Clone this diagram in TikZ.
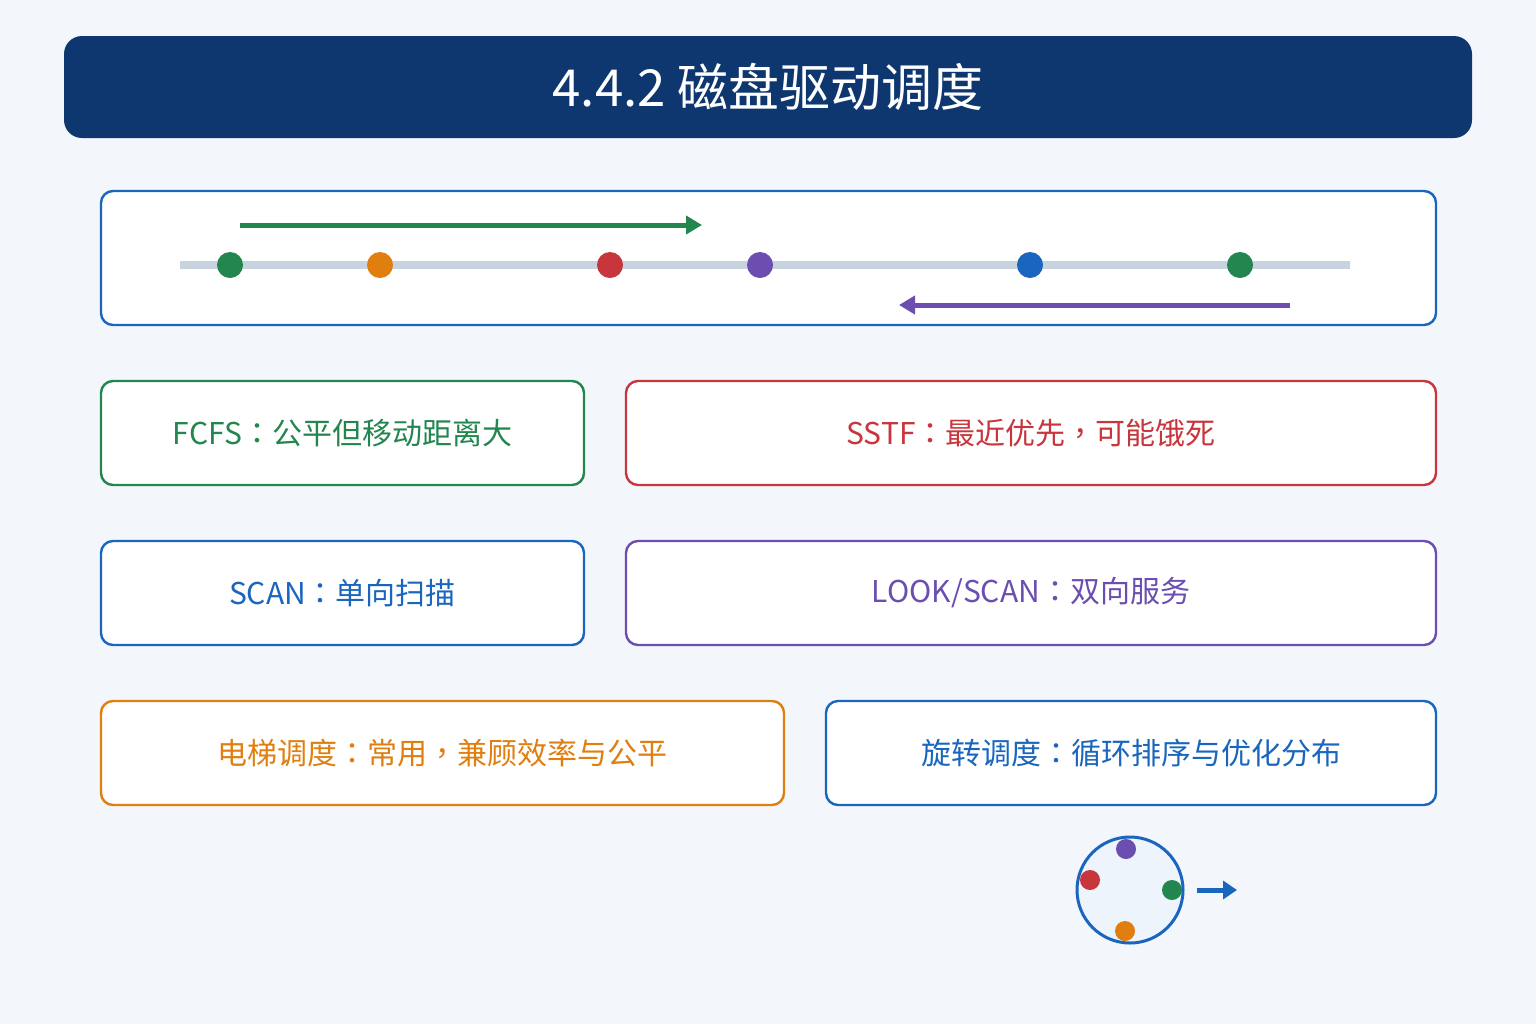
\documentclass[tikz,border=0pt]{standalone}
\usepackage{fontspec}
\setmainfont{Noto Sans CJK SC}
\newfontfamily\tcpunct{Noto Sans CJK TC}
\usepackage{tikz}
\usetikzlibrary{arrows.meta}

\definecolor{pagebg}{HTML}{F3F7FB}
\definecolor{navy}{HTML}{0E376F}
\definecolor{dgreen}{HTML}{22864E}
\definecolor{dorange}{HTML}{E07F10}
\definecolor{dred}{HTML}{C8363D}
\definecolor{dpurple}{HTML}{6B4EB0}
\definecolor{dblue}{HTML}{1A66BE}
\definecolor{track}{HTML}{C8D3E0}
\definecolor{diskfill}{HTML}{EEF4FC}

\newcommand{\cln}{{\tcpunct ：}}
\newcommand{\cma}{{\tcpunct ，}}

\begin{document}
\begin{tikzpicture}[
x=0.5pt, y=-0.5pt,
card/.style={draw, line width=1.2pt, rounded corners=6pt, fill=white, font=\fontsize{15}{18}\selectfont, inner sep=0pt},
req/.style={circle, fill, inner sep=0pt, minimum size=13pt},
smallreq/.style={circle, fill, inner sep=0pt, minimum size=10pt},
arrow/.style={-{Triangle[length=8pt,width=9pt]}, line width=2.5pt},
smallarrow/.style={-{Triangle[length=7pt,width=9pt]}, line width=2.5pt} ]

\useasboundingbox[fill=pagebg] (0,0) rectangle (1536,1024);

% title
\node[fill=navy, rounded corners=9pt, minimum width=704pt, minimum height=51pt, text=white, font=\fontsize{25.5}{30}\selectfont](title) at (768,87) {4.4.2 磁盘驱动调度};

% track with requests
\node[card, draw=dblue, minimum width=667.5pt, minimum height=67pt](track) at (768.5,258) {};

\coordinate (t0) at (180,265);
\coordinate (t1) at (1350,265);
\draw[track, line width=4pt] (t0) -- (t1);

\node[req, dgreen](r1) at (230,265) {};
\node[req, dorange](r2) at (380,265) {};
\node[req, dred](r3) at (610,265) {};
\node[req, dpurple](r4) at (760,265) {};
\node[req, dblue](r5) at (1030,265) {};
\node[req, dgreen](r6) at (1240,265) {};

\coordinate (up0) at (240,225);
\coordinate (up1) at (702,225);
\draw[arrow, dgreen] (up0) -- (up1);

\coordinate (dn0) at (1290,305);
\coordinate (dn1) at (899,305);
\draw[arrow, dpurple] (dn0) -- (dn1);

% algorithms
\node[card, draw=dgreen, text=dgreen, minimum width=241.5pt, minimum height=52pt](fcfs) at (342.5,433) {FCFS\cln 公平但移动距离大};

\node[card, draw=dred, text=dred, minimum width=405pt, minimum height=52pt](sstf) at (1031,433) {SSTF\cln 最近优先\cma 可能饿死};

\node[card, draw=dblue, text=dblue, minimum width=241.5pt, minimum height=52pt](scan) at (342.5,593) {SCAN\cln 单向扫描};

\node[card, draw=dpurple, text=dpurple, minimum width=405pt, minimum height=52pt](look) at (1031,593) {LOOK/SCAN\cln 双向服务};

\node[card, draw=dorange, text=dorange, minimum width=341.5pt, minimum height=52pt](lift) at (442.5,753) {电梯调度\cln 常用\cma 兼顾效率与公平};

\node[card, draw=dblue, text=dblue, minimum width=305pt, minimum height=52pt](rot) at (1131,753) {旋转调度\cln 循环排序与优化分布};

% rotating disk
\node[circle, draw=dblue, fill=diskfill, line width=1.5pt, minimum size=53pt, inner sep=0pt](disk) at (1130,890) {};

\node[smallreq, dpurple](s1) at (1126,849) {};
\node[smallreq, dred](s2) at (1090,880) {};
\node[smallreq, dgreen](s3) at (1172,890) {};
\node[smallreq, dorange](s4) at (1125,931) {};

\coordinate (spin) at (1237,890);
\draw[smallarrow, dblue] ([xshift=6pt]disk.east) -- (spin);

\end{tikzpicture}
\end{document}
